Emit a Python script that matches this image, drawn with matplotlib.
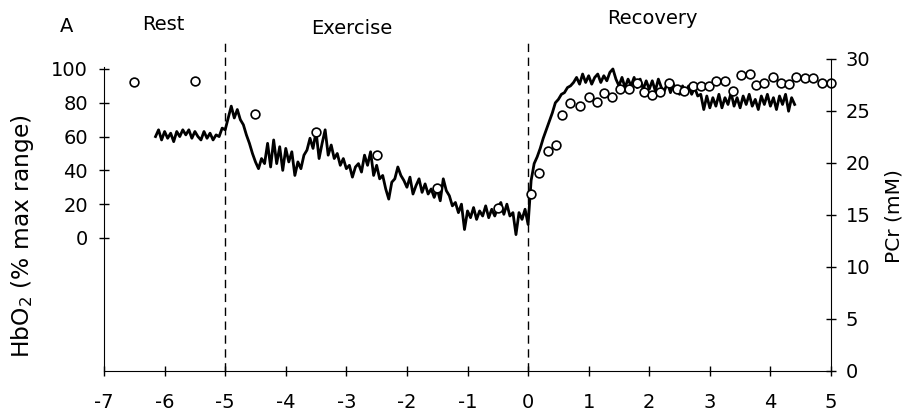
import numpy as np
import matplotlib.pyplot as plt

plt.rcParams['font.family'] = ['DejaVu Sans']
plt.rcParams['axes.unicode_minus'] = False

# HbO2 trace (% max range), sampled every 0.05 min starting at -6.15 min
hbo2_start = -6.15
hbo2_step = 0.05
hbo2 = [
    60, 64, 58, 63, 59, 62, 57, 63, 60, 64, 61, 64, 59, 63, 60, 58, 63, 59, 62, 58, 61, 60, 65,
    64, 71, 78, 71, 76, 70, 67, 61, 56, 50, 45, 41, 47, 44, 56, 42, 58, 44, 54, 40,
    53, 45, 51, 37, 45, 41, 49, 52, 59, 53, 63, 47, 56, 64, 49, 55, 47, 50, 43, 47,
    41, 43, 36, 42, 44, 39, 49, 43, 51, 37, 43, 35, 37, 29, 23, 33, 35, 42, 37, 34,
    30, 36, 26, 31, 35, 27, 32, 26, 29, 24, 29, 22, 35, 28, 25, 19, 21, 15, 20, 5,
    16, 12, 18, 11, 16, 13, 19, 12, 17, 13, 18, 21, 14, 20, 13, 15, 2, 15, 11, 17,
    8, 34, 44, 48, 53, 59, 64, 69, 74, 80, 82, 85, 86, 89, 90, 92, 95, 91, 97, 92,
    96, 91, 95, 97, 92, 96, 93, 98, 100, 94, 90, 95, 89, 94, 90, 95, 89, 94, 88, 93,
    88, 93, 87, 94, 89, 87, 92, 86, 91, 87, 85, 90, 86, 90, 85, 89, 84, 85, 76, 84,
    77, 83, 78, 85, 77, 83, 79, 86, 78, 83, 77, 84, 79, 85, 78, 82, 76, 84, 79, 85,
    78, 83, 76, 84, 79, 85, 75, 83, 79,
]
hbo2_t = hbo2_start + hbo2_step * np.arange(len(hbo2))

# PCr (mM) measurements
pcr_t = [-6.5, -5.5, -4.5, -3.5, -2.5, -1.5, -0.5,
         0.05, 0.18, 0.33, 0.46, 0.56, 0.70, 0.85, 1.00, 1.13, 1.25, 1.38, 1.51, 1.66,
         1.79, 1.92, 2.05, 2.18, 2.33, 2.46, 2.57, 2.72, 2.85, 2.98, 3.11, 3.25, 3.38,
         3.52, 3.66, 3.77, 3.90, 4.05, 4.18, 4.31, 4.43, 4.57, 4.70, 4.85, 5.00]
pcr = [27.8, 27.9, 24.7, 23.0, 20.8, 17.6, 15.7,
       17.0, 19.0, 21.2, 21.7, 24.6, 25.8, 25.5, 26.3, 25.9, 26.7, 26.3, 27.1, 27.1,
       27.7, 26.8, 26.5, 26.8, 27.7, 27.1, 26.9, 27.4, 27.4, 27.4, 27.9, 27.9, 26.9,
       28.5, 28.6, 27.5, 27.7, 28.3, 27.7, 27.6, 28.3, 28.2, 28.2, 27.7, 27.7]

xticks = [-7, -6, -5, -4, -3, -2, -1, 0, 1, 2, 3, 4, 5]
hbo2_ticks = [0, 20, 40, 60, 80, 100]
pcr_ticks = [0, 5, 10, 15, 20, 25, 30]
phase_lines = [-5, 0]

fig = plt.figure(figsize=(9.07, 4.19), dpi=100)
ax = fig.add_axes([0.1147, 0.1146, 0.8015, 0.7446])
ax2 = ax.twinx()

ylo, yhi = -78.7, 105.9
ax.set_xlim(-7, 5)
ax.set_ylim(ylo, yhi)
ax2.set_ylim(0, 30)

ax.plot(hbo2_t, hbo2, color='black', lw=2.0, zorder=3)
for x in phase_lines:
    ax.plot([x, x], [ylo, 116], color='black', lw=1, ls=(0, (6, 4)), clip_on=False)
ax2.plot(pcr_t, pcr, 'o', ms=6.3, mfc='white', mec='black', mew=1.2, clip_on=False)

for a in (ax, ax2):
    a.spines['top'].set_visible(False)
ax.spines['right'].set_visible(False)
ax2.spines['left'].set_visible(False)
ax2.spines['bottom'].set_visible(False)
ax.spines['left'].set_bounds(ylo, 101)

ax.set_xticks(xticks)
ax.set_yticks(hbo2_ticks)
ax2.set_yticks(pcr_ticks)
ax.tick_params(axis='x', direction='inout', length=7, width=1, pad=12, labelsize=14)
ax.tick_params(axis='y', direction='inout', length=7, width=1, pad=8, labelsize=14)
ax2.tick_params(axis='y', direction='inout', length=7, width=1, pad=7, labelsize=14)

ax.set_ylabel('HbO$_2$ (% max range)', fontsize=16.8)
ax.yaxis.set_label_coords(-0.094, 0.433)
ax2.set_ylabel('PCr (mM)', fontsize=14.5)
ax2.yaxis.set_label_coords(1.074, 0.497)

fig.text(67 / 907, 1 - 26 / 419, 'A', fontsize=14, ha='center', va='center')
fig.text(163 / 907, 1 - 25 / 419, 'Rest', fontsize=14, ha='center', va='center')
fig.text(352 / 907, 1 - 28 / 419, 'Exercise', fontsize=14, ha='center', va='center')
fig.text(652 / 907, 1 - 19 / 419, 'Recovery', fontsize=14, ha='center', va='center')

fig.savefig('out.png', dpi=100)
